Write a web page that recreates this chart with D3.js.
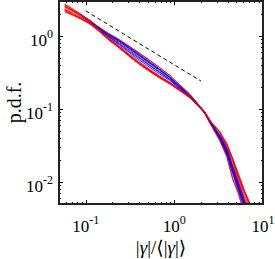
<!DOCTYPE html>
<html>
<head>
<meta charset="utf-8">
<script src="https://cdn.jsdelivr.net/npm/d3@7"></script>
<style>
  html, body { margin: 0; padding: 0; background: #fff; }
  svg { display: block; }
  text { font-family: "Liberation Serif", "DejaVu Serif", serif; fill: #000; }
</style>
</head>
<body>
<div id="chart"></div>
<script>
// shared abscissa of all curves
const xs = [0.058, 0.073, 0.09, 0.11, 0.14, 0.18, 0.24, 0.31, 0.4, 0.52, 0.68, 0.88,
  1.14, 1.48, 1.92, 2.2, 2.6, 3.25, 3.9, 4.55, 5.3, 6.2, 7.1];

// red curves
const red1 = [2.53, 2.20, 1.93, 1.65, 1.32, 1.08, 0.885, 0.719, 0.585, 0.468, 0.368, 0.291, 0.216, 0.161, 0.111, 0.091, 0.066, 0.049, 0.031, 0.0205, 0.0115, 0.0072, 0.0048];
const red2 = [2.22, 1.91, 1.68, 1.47, 1.17, 0.89, 0.679, 0.525, 0.415, 0.332, 0.269, 0.224, 0.18, 0.144, 0.105, 0.087, 0.060, 0.037, 0.0225, 0.011, 0.0069, 0.0036, 0.0025];
const red3 = [2.60, 2.16, 1.81, 1.53, 1.21, 0.94, 0.711, 0.548, 0.43, 0.344, 0.278, 0.229, 0.184, 0.147, 0.107, 0.089, 0.064, 0.045, 0.031, 0.0186, 0.0111, 0.0065, 0.0044];
const red4 = [2.34, 2.01, 1.78, 1.54, 1.23, 0.95, 0.727, 0.565, 0.447, 0.354, 0.284, 0.234, 0.186, 0.148, 0.108, 0.089, 0.062, 0.039, 0.0238, 0.0127, 0.0073, 0.0041, 0.0027];
const red5 = [2.70, 2.29, 1.94, 1.58, 1.22, 0.93, 0.695, 0.53, 0.418, 0.336, 0.274, 0.229, 0.186, 0.150, 0.109, 0.091, 0.066, 0.048, 0.0338, 0.0209, 0.0127, 0.0075, 0.0051];
const red6 = [2.12, 1.91, 1.74, 1.52, 1.2, 0.92, 0.703, 0.542, 0.425, 0.34, 0.274, 0.226, 0.182, 0.145, 0.106, 0.088, 0.061, 0.040, 0.0248, 0.014, 0.008, 0.0047, 0.0032];
const red7 = [2.46, 2.12, 1.87, 1.62, 1.30, 1.04, 0.837, 0.669, 0.54, 0.432, 0.342, 0.273, 0.206, 0.155, 0.108, 0.089, 0.064, 0.0445, 0.0297, 0.017, 0.0102, 0.006, 0.0041];
const red8 = [2.29, 1.97, 1.70, 1.5, 1.19, 0.9, 0.69, 0.53, 0.415, 0.33, 0.266, 0.221, 0.18, 0.145, 0.106, 0.088, 0.062, 0.042, 0.0275, 0.0163, 0.0096, 0.0056, 0.0039];

// blue curves (start later)
const blue1 = [null, null, 1.91, 1.63, 1.31, 1.07, 0.869, 0.70, 0.565, 0.448, 0.352, 0.278, 0.208, 0.156, 0.109, 0.089, 0.063, 0.042, 0.0265, 0.015, 0.0086, 0.0049, 0.0033];
const blue2 = [null, null, 1.87, 1.6, 1.28, 1.04, 0.837, 0.669, 0.535, 0.424, 0.336, 0.268, 0.202, 0.153, 0.108, 0.088, 0.061, 0.0395, 0.0243, 0.0135, 0.0077, 0.0044, 0.003];
const blue3 = [null, null, null, 1.58, 1.27, 1.01, 0.806, 0.638, 0.51, 0.404, 0.32, 0.257, 0.196, 0.15, 0.107, 0.089, 0.064, 0.0433, 0.0284, 0.0163, 0.0096, 0.0055, 0.0037];
const blue4 = [null, null, null, 1.57, 1.26, 0.98, 0.758, 0.594, 0.47, 0.376, 0.301, 0.247, 0.192, 0.148, 0.107, 0.088, 0.061, 0.040, 0.0248, 0.014, 0.0082, 0.0047, 0.0032];
const blue5 = [null, null, 1.89, 1.62, 1.30, 1.06, 0.861, 0.688, 0.55, 0.436, 0.346, 0.273, 0.204, 0.153, 0.107, 0.088, 0.063, 0.0428, 0.0278, 0.0155, 0.0089, 0.0051, 0.0034];
const blue6 = [null, null, null, 1.6, 1.27, 0.99, 0.774, 0.613, 0.495, 0.396, 0.317, 0.255, 0.196, 0.151, 0.108, 0.089, 0.062, 0.0407, 0.0259, 0.0147, 0.0085, 0.0048, 0.0033];

// dashed reference slope
const guideX = [0.1, 2.0];
const guideY = [2.2, 0.24];

const xTicks = [0.1, 1, 10];
const xTickExp = ['-1', '0', '1'];
const yTicks = [1, 0.1, 0.01];
const yTickExp = ['0', '-1', '-2'];

const redSeries = [red1, red2, red3, red4, red5, red6, red7, red8];
const blueSeries = [blue1, blue2, blue3, blue4, blue5, blue6];

const width = 275, height = 259;
const margin = { top: 1, right: 12, bottom: 55, left: 59 };

const svg = d3.select('#chart').append('svg')
  .attr('width', width)
  .attr('height', height);

const x = d3.scaleLog()
  .domain([0.05, 10])
  .range([margin.left, width - margin.right]);

const y = d3.scaleLog()
  .domain([0.005, 3])
  .range([height - margin.bottom, margin.top]);

svg.append('defs').append('clipPath').attr('id', 'plot-clip')
  .append('rect')
  .attr('x', margin.left)
  .attr('y', margin.top)
  .attr('width', width - margin.right - margin.left)
  .attr('height', height - margin.bottom - margin.top);

const line = d3.line()
  .defined(d => d[1] != null)
  .x(d => x(d[0]))
  .y(d => y(d[1]));

const plot = svg.append('g').attr('clip-path', 'url(#plot-clip)');

// red first, blue over it, then a couple of red again on top
const drawSeries = (arr, color) => {
  plot.append('path')
    .datum(xs.map((v, i) => [v, arr[i]]))
    .attr('fill', 'none')
    .attr('stroke', color)
    .attr('stroke-width', 1)
    .attr('stroke-opacity', 0.85)
    .attr('d', line);
};
redSeries.forEach(s => drawSeries(s, '#ff0000'));
blueSeries.forEach(s => drawSeries(s, '#0000ff'));
[red1, red5, red2].forEach(s => drawSeries(s, '#ff0000'));

plot.append('path')
  .datum(guideX.map((v, i) => [v, guideY[i]]))
  .attr('fill', 'none')
  .attr('stroke', '#000')
  .attr('stroke-width', 1)
  .attr('stroke-dasharray', '4,3')
  .attr('d', line);

// ticks (inward, all four sides)
const x0 = margin.left, x1 = width - margin.right;
const y0 = height - margin.bottom, y1 = margin.top;
const xMinor = [0.06, 0.07, 0.08, 0.09, 0.2, 0.3, 0.4, 0.5, 0.6, 0.7, 0.8, 0.9, 2, 3, 4, 5, 6, 7, 8, 9];
const yMinor = [0.006, 0.007, 0.008, 0.009, 0.02, 0.03, 0.04, 0.05, 0.06, 0.07, 0.08, 0.09,
  0.2, 0.3, 0.4, 0.5, 0.6, 0.7, 0.8, 0.9, 2];

const ticks = svg.append('g').attr('stroke', '#000').attr('stroke-width', 1);
const addXTick = (v, len) => {
  const px = Math.round(x(v)) + 0.5;
  ticks.append('line').attr('x1', px).attr('x2', px).attr('y1', y0).attr('y2', y0 - len);
  ticks.append('line').attr('x1', px).attr('x2', px).attr('y1', y1).attr('y2', y1 + len);
};
const addYTick = (v, len) => {
  const py = Math.round(y(v)) + 0.5;
  ticks.append('line').attr('y1', py).attr('y2', py).attr('x1', x0).attr('x2', x0 + len);
  ticks.append('line').attr('y1', py).attr('y2', py).attr('x1', x1).attr('x2', x1 - len);
};
xMinor.forEach(v => addXTick(v, 2));
xTicks.forEach(v => addXTick(v, 4));
yMinor.forEach(v => addYTick(v, 2));
yTicks.forEach(v => addYTick(v, 4));

// frame
svg.append('rect')
  .attr('x', x0)
  .attr('y', y1)
  .attr('width', x1 - x0)
  .attr('height', y0 - y1)
  .attr('fill', 'none')
  .attr('stroke', '#222')
  .attr('stroke-width', 2);

// tick labels
xTicks.forEach((v, i) => {
  const t = svg.append('text')
    .attr('x', x(v))
    .attr('y', 232)
    .attr('text-anchor', 'middle')
    .style('font-size', '17px');
  t.append('tspan').text('10');
  t.append('tspan').attr('dy', -8).style('font-size', '12px').text(xTickExp[i]);
});

yTicks.forEach((v, i) => {
  const t = svg.append('text')
    .attr('x', 53)
    .attr('y', y(v) + 10)
    .attr('text-anchor', 'end')
    .style('font-size', '17px');
  t.append('tspan').text('10');
  t.append('tspan').attr('dy', -8).style('font-size', '12px').text(yTickExp[i]);
});

// axis labels
svg.append('text')
  .attr('transform', `translate(21,${(y0 + y1) / 2}) rotate(-90)`)
  .attr('text-anchor', 'middle')
  .style('font-size', '20px')
  .text('p.d.f.');

const xl = svg.append('text')
  .attr('x', (x0 + x1) / 2)
  .attr('y', 254)
  .attr('text-anchor', 'middle')
  .style('font-size', '19px');
xl.append('tspan').text('|');
xl.append('tspan').style('font-style', 'italic').text('γ');
xl.append('tspan').text('|/⟨|');
xl.append('tspan').style('font-style', 'italic').text('γ');
xl.append('tspan').text('|⟩');
</script>
</body>
</html>
